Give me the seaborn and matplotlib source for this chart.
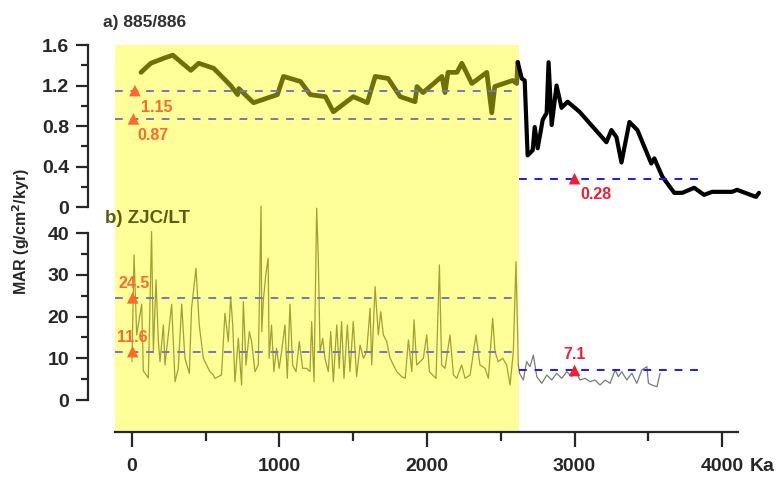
import numpy as np
import pandas as pd
import matplotlib
matplotlib.use("Agg")
import matplotlib.pyplot as plt
import seaborn as sns
from matplotlib.ticker import MultipleLocator, FixedLocator

# ---- data ----
# a) 885/886, part inside the yellow band (olive) and after it (black)
odp_x = [61, 128, 216, 277, 399, 453, 554, 669, 716, 724, 824, 986, 1027, 1142, 1209,
         1311, 1365, 1500, 1595, 1649, 1736, 1818, 1919, 1932, 1973, 2101, 2122, 2142,
         2203, 2236, 2304, 2405, 2439, 2459, 2581, 2608, 2615]
odp_y = [1.33, 1.42, 1.47, 1.50, 1.35, 1.42, 1.37, 1.20, 1.11, 1.17, 1.03, 1.11, 1.29,
         1.24, 1.11, 1.09, 0.94, 1.09, 1.03, 1.29, 1.27, 1.09, 1.04, 1.19, 1.13, 1.29,
         1.13, 1.33, 1.33, 1.42, 1.22, 1.33, 0.93, 1.19, 1.25, 1.22, 1.43]
odp_old_x = [2615, 2642, 2662, 2682, 2716, 2730, 2750, 2784, 2811, 2824, 2845, 2878,
             2912, 2953, 3034, 3216, 3250, 3284, 3318, 3372, 3426, 3520, 3541, 3595,
             3676, 3730, 3811, 3878, 3932, 4068, 4101, 4230, 4250]
odp_old_y = [1.43, 1.27, 1.25, 0.51, 0.56, 0.79, 0.58, 0.86, 0.93, 1.43, 0.81, 1.20,
             0.98, 1.04, 0.94, 0.64, 0.76, 0.69, 0.44, 0.84, 0.76, 0.43, 0.48, 0.30,
             0.14, 0.14, 0.19, 0.12, 0.15, 0.15, 0.17, 0.10, 0.14]

# b) ZJC/LT
zjc_x = [0, 14, 32, 66, 77, 111, 133, 145, 163, 179, 190, 213, 224, 269, 292, 314, 337,
         359, 389, 404, 434, 456, 484, 517, 529, 551, 562, 607, 630, 653, 669, 683, 698,
         721, 743, 755, 773, 796, 811, 834, 856, 875, 880, 890, 907, 923, 930, 946, 962,
         980, 998, 1014, 1037, 1053, 1071, 1089, 1112, 1134, 1157, 1184, 1207, 1218,
         1234, 1252, 1263, 1275, 1293, 1308, 1331, 1347, 1365, 1388, 1405, 1421, 1437,
         1460, 1478, 1500, 1523, 1546, 1569, 1591, 1614, 1625, 1648, 1670, 1686, 1704,
         1727, 1750, 1772, 1795, 1829, 1852, 1874, 1897, 1912, 1930, 1953, 1975, 1998,
         2016, 2038, 2061, 2084, 2099, 2122, 2156, 2179, 2201, 2235, 2258, 2292, 2332,
         2359, 2393, 2416, 2445, 2461, 2483, 2513, 2540, 2563, 2585, 2603, 2619]
zjc_y = [9.2, 34.8, 15.6, 23, 7, 5.3, 40.4, 11.6, 28.8, 14, 9.2, 18, 8.4, 23, 4.4, 7.6,
         23, 10, 6.4, 22, 31.6, 18, 10, 7.6, 6.8, 6, 5.2, 6, 20.8, 14, 24.8, 18, 4.4,
         14.8, 3.6, 23.6, 8.4, 16.4, 14, 6.8, 8.4, 46.5, 16.4, 23.6, 30, 34, 10, 18, 6.8,
         12.4, 7.6, 11.6, 18, 5.2, 23, 8.4, 6.8, 14, 7.6, 7.6, 6.8, 18.8, 4.4, 46, 34,
         11.6, 14.8, 10, 6.8, 16.4, 4.4, 18, 7.6, 18.8, 5.2, 18, 6.8, 18.8, 5.6, 13.2,
         10, 11.6, 22, 8.4, 27.2, 15.6, 21.2, 15.6, 14, 10, 8.4, 6.8, 5.6, 5.2, 14.4,
         6.8, 19.2, 8.4, 9.2, 10, 15.6, 6.8, 6, 5.2, 32.4, 8.4, 7.6, 15.6, 6, 5.2, 8.4,
         5.2, 6, 15.6, 8.4, 7.6, 5.2, 19.6, 11.6, 9.2, 10, 8.4, 3.6, 11.6, 33.2, 8.4]
zjc_old_x = [2619, 2627, 2653, 2675, 2698, 2721, 2744, 2778, 2812, 2845, 2879, 2913,
             2947, 2981, 3003, 3037, 3071, 3105, 3139, 3173, 3207, 3241, 3275, 3297,
             3320, 3354, 3388, 3422, 3456, 3490, 3501, 3524, 3558, 3580]
zjc_old_y = [8.4, 6.4, 4.8, 9.2, 8, 10.8, 5.6, 4, 6, 4.8, 6.4, 5.2, 6.8, 5.6, 7.2, 4.8,
             5.2, 4.4, 4.8, 3.6, 4.8, 4, 7.2, 5.6, 6.8, 4.8, 6.4, 4, 7.2, 8, 4, 3.6,
             3.2, 6.4]

# mean values (young / old interval)
band_start, band_end, old_end = -115, 2622, 3850
odp_means_young = [1.15, 0.87]
odp_mean_old = 0.28
zjc_means_young = [24.5, 11.6]
zjc_mean_old = 7.1

xticks = [0, 1000, 2000, 3000, 4000]
xtick_labels = ["0", "1000", "2000", "3000", "4000"]

# ---- style ----
sns.set_style("ticks")
plt.rcParams['font.family'] = ['Liberation Sans', 'DejaVu Sans']
plt.rcParams['font.weight'] = 'bold'

yellow = "#ffff99"
olive = "#6f6f0c"
olive_light = "#a0a034"
dash_grey = "#7878b4"
orange = "#ff6a2a"
red = "#f02030"
tick_fs = 14

fig = plt.figure(figsize=(7.76, 4.79), dpi=100)
ax_b = fig.add_axes([0.1134, 0.0981, 0.8789, 0.8079])
ax_a = fig.add_axes([0.1134, 0.5678, 0.8789, 0.3382])
ax_a.patch.set_alpha(0)

xlim = (-298, 4325)
for ax in (ax_a, ax_b):
    ax.set_xlim(*xlim)
    for s in ["top", "right"]:
        ax.spines[s].set_visible(False)
    ax.spines["left"].set_linewidth(1.6)
    ax.spines["bottom"].set_linewidth(1.6)

# ---- panel b (bottom axes carries the yellow band and x axis) ----
ax_b.set_ylim(-7.67, 85.13)
ax_b.axvspan(band_start, band_end, color=yellow, lw=0, zorder=0)

sns.lineplot(x=zjc_x, y=zjc_y, ax=ax_b, color=olive_light, lw=0.9,
             estimator=None, sort=False, zorder=3)
sns.lineplot(x=zjc_old_x, y=zjc_old_y, ax=ax_b, color="#7a7a7a", lw=0.9,
             estimator=None, sort=False, zorder=3)

for m in zjc_means_young:
    ax_b.plot([band_start, band_end], [m, m], ls=(0, (4, 4)), color=dash_grey, lw=1.4, zorder=4)
ax_b.plot([band_end, old_end], [zjc_mean_old] * 2, ls=(0, (4, 4)), color="#1a1aff", lw=1.4, zorder=4)

sns.scatterplot(x=[5, 5], y=zjc_means_young, ax=ax_b, marker="^", s=70,
                color=orange, edgecolor="none", zorder=5)
sns.scatterplot(x=[3000], y=[zjc_mean_old], ax=ax_b, marker="^", s=70,
                color=red, edgecolor="none", zorder=5)
ax_b.text(14, 28.0, "24.5", color=orange, fontsize=11.5, ha="center", va="center")
ax_b.text(0, 15.1, "11.6", color=orange, fontsize=11.5, ha="center", va="center")
ax_b.text(3000, 10.8, "7.1", color=red, fontsize=11.5, ha="center", va="center")
ax_b.text(-185, 43.6, "b) ZJC/LT", color="#5c5c14", fontsize=13.5, ha="left", va="center")

ax_b.spines["left"].set_bounds(0, 40)
ax_b.spines["bottom"].set_bounds(band_start, 4108)
ax_b.set_yticks([0, 10, 20, 30, 40])
ax_b.yaxis.set_minor_locator(FixedLocator([5, 15, 25, 35]))
ax_b.set_xticks(xticks)
ax_b.set_xticklabels(xtick_labels)
ax_b.xaxis.set_minor_locator(FixedLocator([500, 1500, 2500, 3500]))
ax_b.set_xlim(*xlim)
ax_b.tick_params(axis="y", which="major", length=8.5, width=1.6, labelsize=tick_fs, pad=5)
ax_b.tick_params(axis="y", which="minor", length=5, width=1.6)
ax_b.tick_params(axis="x", which="major", length=11, width=1.6, labelsize=tick_fs, pad=8)
ax_b.tick_params(axis="x", which="minor", length=6.5, width=1.6)
ax_b.annotate("Ka", xy=(4000, 0), xycoords=("data", "axes fraction"),
              xytext=(20, -19), textcoords="offset points", fontsize=tick_fs,
              ha="left", va="top")
for lab in ax_b.get_yticklabels() + ax_b.get_xticklabels():
    lab.set_fontweight("bold")

# ---- panel a ----
ax_a.set_ylim(0, 1.6)
sns.lineplot(x=odp_x, y=odp_y, ax=ax_a, color=olive, lw=3.4,
             estimator=None, sort=False, zorder=3)
sns.lineplot(x=odp_old_x, y=odp_old_y, ax=ax_a, color="black", lw=3.0,
             estimator=None, sort=False, zorder=3)
for m in odp_means_young:
    ax_a.plot([band_start, band_end], [m, m], ls=(0, (4, 4)), color=dash_grey, lw=1.4, zorder=4)
ax_a.plot([band_end, old_end], [odp_mean_old] * 2, ls=(0, (4, 4)), color="#1a1aff", lw=1.4, zorder=4)
sns.scatterplot(x=[20, 10], y=odp_means_young, ax=ax_a, marker="^", s=70,
                color=orange, edgecolor="none", zorder=5)
sns.scatterplot(x=[3000], y=[odp_mean_old], ax=ax_a, marker="^", s=70,
                color=red, edgecolor="none", zorder=5)
ax_a.text(61, 0.98, "1.15", color=orange, fontsize=11.5, ha="left", va="center")
ax_a.text(34, 0.71, "0.87", color=orange, fontsize=11.5, ha="left", va="center")
ax_a.text(3037, 0.12, "0.28", color=red, fontsize=11.5, ha="left", va="center")
ax_a.text(-197, 1.827, "a) 885/886", color="#303030", fontsize=12.5, ha="left",
          va="center", clip_on=False)

ax_a.spines["bottom"].set_visible(False)
ax_a.spines["left"].set_bounds(0, 1.6)
ax_a.set_yticks([0, 0.4, 0.8, 1.2, 1.6])
ax_a.set_yticklabels(["0", "0.4", "0.8", "1.2", "1.6"])
ax_a.yaxis.set_minor_locator(FixedLocator([0.2, 0.6, 1.0, 1.4]))
ax_a.set_xticks([])
ax_a.xaxis.set_minor_locator(plt.NullLocator())
ax_a.tick_params(axis="y", which="major", length=8.5, width=1.6, labelsize=tick_fs, pad=5)
ax_a.tick_params(axis="y", which="minor", length=5, width=1.6)
for lab in ax_a.get_yticklabels():
    lab.set_fontweight("bold")

fig.text(0.027, 0.516, "MAR (g/cm$^{\\mathbf{2}}$/kyr)", rotation=90, fontsize=11.5,
         fontweight="bold", ha="center", va="center")

fig.savefig("out.png", dpi=100)
